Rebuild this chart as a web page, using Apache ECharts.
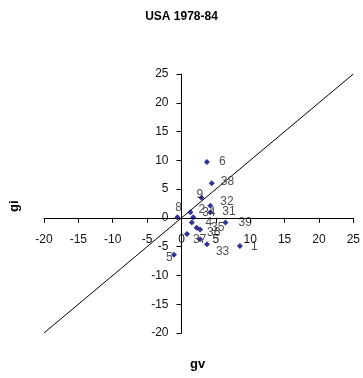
<!DOCTYPE html>
<html>
<head>
<meta charset="utf-8">
<script src="https://cdn.jsdelivr.net/npm/echarts@6/dist/echarts.min.js"></script>
<style>
  html, body { margin: 0; padding: 0; background: #ffffff; }
  #chart { width: 363px; height: 378px; }
</style>
</head>
<body>
<div id="chart"></div>
<script>
// Growth of value (gv) against growth of investment (gi), USA 1978-84
const pointLabels = ['6', '38', '9', '32', '2', '31', '8', '34', '', '4', '35', '39', '37', '36', '33', '1', '5'];
const gv = [3.7, 4.4, 2.9, 4.2, 1.3, 4.2, -0.6, 1.7, 1.5, 2.2, 2.7, 6.4, 0.8, 2.7, 3.7, 8.5, -1.1];
const gi = [9.7, 6.0, 3.5, 2.1, 1.0, 1.0, 0.1, 0.1, -0.8, -1.7, -2.0, -0.8, -2.8, -3.7, -4.6, -4.9, -6.4];

// 45-degree reference line across the full axis range
const diagonalX = [-20, 25];
const diagonalY = [-20, 25];

const axisMin = -20;
const axisMax = 25;
const axisStep = 5;

// Label nudges: [left edge relative to the marker centre, vertical centre shift]
const labelNudge = {
  '6': [12, 0], '38': [9, -2], '9': [-5, -3], '32': [10, -4], '2': [8, -2],
  '31': [12, 0], '8': [-2, -10], '34': [9, -5], '4': [9, -5], '35': [11, -2],
  '39': [13, 0], '37': [6, 6], '36': [7, -6], '33': [9, 7], '1': [11, 1], '5': [-8, 3]
};

const symbolSize = 6;
const textFont = 'Liberation Sans';
const textSize = 12;

const points = gv.map((x, i) => {
  const name = pointLabels[i];
  const nudge = labelNudge[name] || [10, -2];
  return {
    name: name,
    value: [x, gi[i]],
    label: {
      show: name !== '',
      position: 'right',
      distance: 0,
      offset: [nudge[0] - symbolSize / 2, nudge[1]]
    }
  };
});

const chart = echarts.init(document.getElementById('chart'), null, { renderer: 'canvas' });

const axisCommon = {
  type: 'value',
  min: axisMin,
  max: axisMax,
  interval: axisStep,
  splitLine: { show: false },
  axisLine: { show: true, onZero: false, lineStyle: { color: '#000', width: 1 } },
  axisTick: { show: true, inside: false, length: 5, lineStyle: { color: '#000' } },
  axisLabel: { color: '#111', fontSize: textSize, fontFamily: textFont, showMinLabel: true, showMaxLabel: true }
};

chart.setOption({
  animation: false,
  backgroundColor: '#ffffff',
  title: {
    text: 'USA 1978-84',
    left: 'center',
    top: 6,
    textStyle: { fontFamily: 'Liberation Sans', fontWeight: 'bold', fontSize: 12, color: '#000' }
  },
  grid: { left: 44, right: 9, top: 74, bottom: 45, containLabel: false },
  xAxis: Object.assign({}, axisCommon, {
    position: 'bottom',
    axisLabel: Object.assign({}, axisCommon.axisLabel, { margin: 16 })
  }),
  yAxis: Object.assign({}, axisCommon, {
    position: 'left',
    axisLabel: Object.assign({}, axisCommon.axisLabel, { margin: 13 })
  }),
  graphic: [
    {
      type: 'text',
      left: 190,
      top: 358,
      style: { text: 'gv', font: 'bold 13px "Liberation Sans"', fill: '#000' }
    },
    {
      type: 'text',
      x: 8,
      y: 212,
      rotation: Math.PI / 2,
      style: { text: 'gi', font: 'bold 13px "Liberation Sans"', fill: '#000' }
    }
  ],
  series: [
    {
      type: 'line',
      data: diagonalX.map((x, i) => [x, diagonalY[i]]),
      symbol: 'none',
      lineStyle: { color: '#000', width: 1 },
      silent: true,
      z: 1
    },
    {
      type: 'scatter',
      symbol: 'diamond',
      symbolSize: symbolSize,
      itemStyle: { color: '#00007a' },
      data: points,
      label: {
        formatter: '{b}',
        color: '#222',
        fontSize: textSize,
        fontFamily: textFont
      },
      z: 3
    }
  ]
});

// Shift both axes (line, ticks and labels) so they cross at the origin
const origin = chart.convertToPixel({ gridIndex: 0 }, [0, 0]);
const corner = chart.convertToPixel({ gridIndex: 0 }, [axisMin, axisMin]);
chart.setOption({
  xAxis: { offset: origin[1] - corner[1] },
  yAxis: { offset: corner[0] - origin[0] }
});
</script>
</body>
</html>
